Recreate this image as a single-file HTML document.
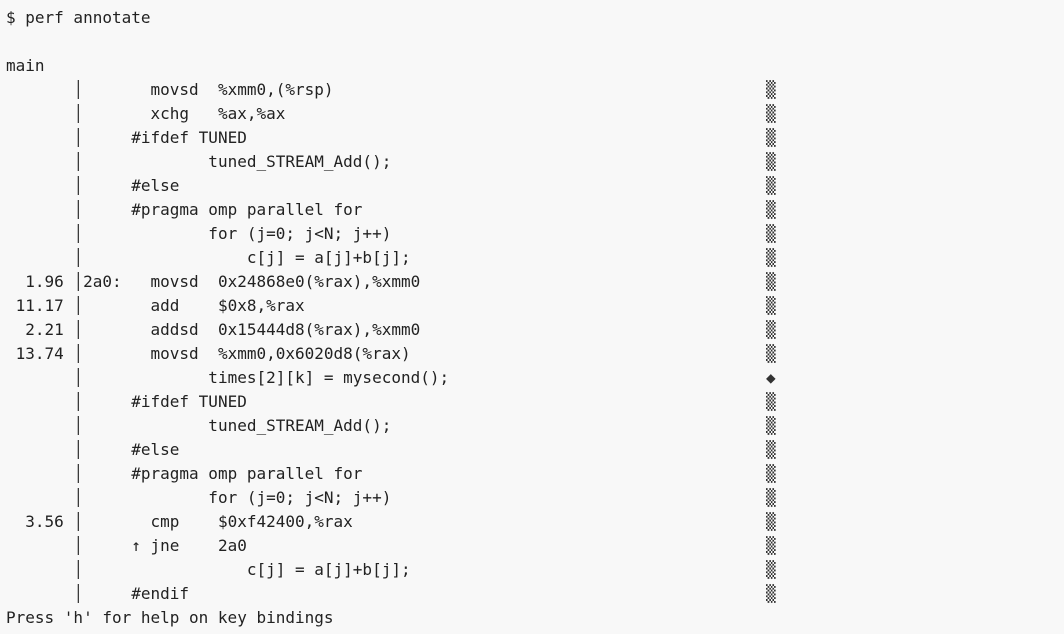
<!DOCTYPE html>
<html><head><meta charset="utf-8"><style>
html,body{margin:0;padding:0;background:#f8f8f8;width:1064px;height:634px;overflow:hidden}
pre{margin:0;padding:6px 0 0 6px;font-family:"DejaVu Sans Mono","Liberation Mono",monospace;font-size:16px;line-height:24px;color:#222;position:relative}
.b{color:#333}
.r{position:absolute;left:766px;color:#333}
</style></head><body>
<pre>$ perf annotate

main
       <span class="b">│</span>       movsd  %xmm0,(%rsp)
       <span class="b">│</span>       xchg   %ax,%ax
       <span class="b">│</span>     #ifdef TUNED
       <span class="b">│</span>             tuned_STREAM_Add();
       <span class="b">│</span>     #else
       <span class="b">│</span>     #pragma omp parallel for
       <span class="b">│</span>             for (j=0; j&lt;N; j++)
       <span class="b">│</span>                 c[j] = a[j]+b[j];
  1.96 <span class="b">│</span>2a0:   movsd  0x24868e0(%rax),%xmm0
 11.17 <span class="b">│</span>       add    $0x8,%rax
  2.21 <span class="b">│</span>       addsd  0x15444d8(%rax),%xmm0
 13.74 <span class="b">│</span>       movsd  %xmm0,0x6020d8(%rax)
       <span class="b">│</span>             times[2][k] = mysecond();
       <span class="b">│</span>     #ifdef TUNED
       <span class="b">│</span>             tuned_STREAM_Add();
       <span class="b">│</span>     #else
       <span class="b">│</span>     #pragma omp parallel for
       <span class="b">│</span>             for (j=0; j&lt;N; j++)
  3.56 <span class="b">│</span>       cmp    $0xf42400,%rax
       <span class="b">│</span>     ↑ jne    2a0
       <span class="b">│</span>                 c[j] = a[j]+b[j];
       <span class="b">│</span>     #endif
Press 'h' for help on key bindings<span class="r" style="top:78px">▒</span><span class="r" style="top:102px">▒</span><span class="r" style="top:126px">▒</span><span class="r" style="top:150px">▒</span><span class="r" style="top:174px">▒</span><span class="r" style="top:198px">▒</span><span class="r" style="top:222px">▒</span><span class="r" style="top:246px">▒</span><span class="r" style="top:270px">▒</span><span class="r" style="top:294px">▒</span><span class="r" style="top:318px">▒</span><span class="r" style="top:342px">▒</span><span class="r" style="top:366px">◆</span><span class="r" style="top:390px">▒</span><span class="r" style="top:414px">▒</span><span class="r" style="top:438px">▒</span><span class="r" style="top:462px">▒</span><span class="r" style="top:486px">▒</span><span class="r" style="top:510px">▒</span><span class="r" style="top:534px">▒</span><span class="r" style="top:558px">▒</span><span class="r" style="top:582px">▒</span></pre>
</body></html>
